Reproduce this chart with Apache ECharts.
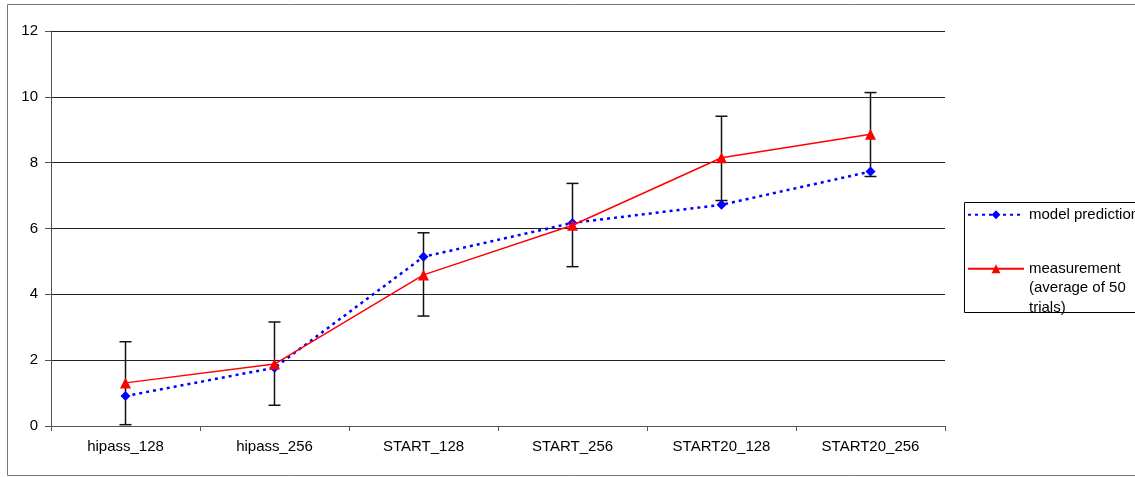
<!DOCTYPE html>
<html>
<head>
<meta charset="utf-8">
<script src="https://cdn.jsdelivr.net/npm/echarts@6/dist/echarts.min.js"></script>
<style>
  html, body { margin: 0; padding: 0; background: #fff; }
  #chart { width: 1135px; height: 477px; }
</style>
</head>
<body>
<div id="chart"></div>
<script>
// Configurations along the x axis
const categories = ['hipass_128', 'hipass_256', 'START_128', 'START_256', 'START20_128', 'START20_256'];
// Predicted values from the model
const modelPrediction = [0.91, 1.77, 5.14, 6.17, 6.72, 7.73];
// Measured values (average of 50 trials)
const measurement = [1.31, 1.88, 4.59, 6.10, 8.15, 8.86];
// Error bar extents around the measurements
const errLow = [0.04, 0.63, 3.34, 4.84, 6.85, 7.58];
const errHigh = [2.56, 3.16, 5.87, 7.37, 9.41, 10.13];

const MODEL_NAME = 'model prediction';
const MEAS_NAME = 'measurement\n(average of 50\ntrials)';

const FONT = '"Liberation Sans", Arial, sans-serif';

const chart = echarts.init(document.getElementById('chart'), null, { renderer: 'canvas' });

const errorData = categories.map((c, i) => [i, errLow[i], errHigh[i]]);

chart.setOption({
  animation: false,
  backgroundColor: '#ffffff',
  textStyle: { fontFamily: FONT },
  grid: { left: 51, right: 190, top: 31, bottom: 51, containLabel: false },
  graphic: [
    {
      type: 'rect',
      shape: { x: 7.5, y: 4.5, width: 1140, height: 471 },
      style: { fill: 'none', stroke: '#777', lineWidth: 1 },
      silent: true, z: -10
    },
    {
      type: 'rect',
      shape: { x: 964.5, y: 202.5, width: 200, height: 110 },
      style: { fill: '#fff', stroke: '#000', lineWidth: 1 },
      silent: true, z: 0
    }
  ],
  legend: {
    orient: 'vertical',
    left: 967,
    top: 205,
    itemWidth: 56,
    itemHeight: 11,
    itemGap: -4.5,
    padding: 0,
    z: 5,
    textStyle: { fontFamily: FONT, fontSize: 15, color: '#000', lineHeight: 19.5 },
    // keep the first text line of a multi-line entry level with its symbol
    formatter: function (name) {
      const n = name.split('\n').length;
      return n > 1 ? '\n'.repeat(n - 1) + name : name;
    },
    data: [MODEL_NAME, MEAS_NAME]
  },
  xAxis: {
    type: 'category',
    data: categories,
    boundaryGap: true,
    axisLine: { lineStyle: { color: '#555', width: 1 } },
    axisTick: { show: true, length: 5, lineStyle: { color: '#555' } },
    axisLabel: { color: '#000', fontSize: 15, fontFamily: FONT, margin: 13 },
    splitLine: { show: false }
  },
  yAxis: {
    type: 'value',
    min: 0, max: 12, interval: 2,
    axisLine: { show: true, lineStyle: { color: '#555', width: 1 } },
    axisTick: { show: true, length: 6, lineStyle: { color: '#555' } },
    axisLabel: { color: '#000', fontSize: 15, fontFamily: FONT, margin: 13 },
    splitLine: { show: true, lineStyle: { color: '#222', width: 1 } }
  },
  series: [
    {
      name: 'errorbars',
      type: 'custom',
      z: 1,
      data: errorData,
      renderItem: function (params, api) {
        const x = api.value(0);
        const lo = api.coord([x, api.value(1)]);
        const hi = api.coord([x, api.value(2)]);
        const hw = 6;
        const style = { stroke: '#111', lineWidth: 1.5 };
        return {
          type: 'group',
          children: [
            { type: 'line', shape: { x1: hi[0], y1: hi[1], x2: lo[0], y2: lo[1] }, style: style },
            { type: 'line', shape: { x1: hi[0] - hw, y1: hi[1], x2: hi[0] + hw, y2: hi[1] }, style: style },
            { type: 'line', shape: { x1: lo[0] - hw, y1: lo[1], x2: lo[0] + hw, y2: lo[1] }, style: style }
          ]
        };
      }
    },
    {
      name: MODEL_NAME,
      type: 'line',
      z: 3,
      data: modelPrediction,
      symbol: 'diamond',
      symbolSize: 10,
      itemStyle: { color: '#0000ff' },
      lineStyle: { color: '#0000ff', width: 2.5, type: [3, 4] }
    },
    {
      name: MEAS_NAME,
      type: 'line',
      z: 4,
      data: measurement,
      symbol: 'triangle',
      symbolSize: 11,
      itemStyle: { color: '#ff0000' },
      lineStyle: { color: '#ff0000', width: 1.5 }
    }
  ]
});
</script>
</body>
</html>
